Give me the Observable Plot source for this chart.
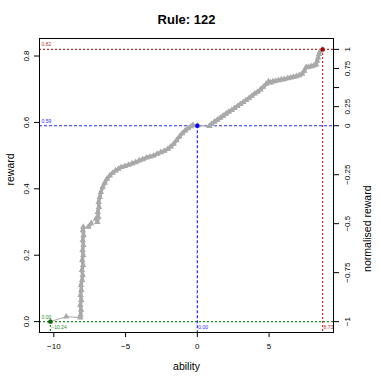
<!DOCTYPE html>
<html><head><meta charset="utf-8">
<script src="https://cdn.jsdelivr.net/npm/d3@7"></script>
<script src="https://cdn.jsdelivr.net/npm/@observablehq/plot@0.6"></script>
<style>body{margin:0;background:#fff}</style>
</head><body><div id="chart"></div>
<script>
const chartTitle = "Rule: 122";
const xLabel = "ability";
const yLabel = "reward";
const y2Label = "normalised reward";

const ability = [
  -10.24, -9.14, -8.15,
  -8.14, -8.10, -8.15, -8.09, -8.14, -8.08, -8.11, -8.03, -7.99, -8.04, -7.96, -8.02, -7.95, -8.00, -7.94, -7.99, -7.93, -7.98, -7.95,
  -7.60, -7.40, -7.05,
  -6.97, -6.90, -6.94, -6.86, -6.88, -6.80, -6.72, -6.60, -6.45, -6.30, -6.10, -5.90, -5.70, -5.50, -5.30, -5.05, -4.80, -4.55, -4.30,
  -4.05, -3.80, -3.55, -3.30, -3.05, -2.80, -2.55, -2.30, -2.05, -1.85, -1.65, -1.45, -1.25, -1.05, -0.85, -0.65, -0.45, -0.30,
  0.00,
  0.84, 1.00, 1.19, 1.40, 1.60, 1.80, 2.00, 2.20, 2.40, 2.60, 2.80, 3.00, 3.20, 3.40, 3.60, 3.80, 4.00, 4.20, 4.40, 4.60, 4.80,
  4.95, 5.10, 5.26, 5.45, 5.65, 5.85, 6.05, 6.30, 6.50, 6.70, 6.90, 7.10, 7.30, 7.45, 7.58, 7.75, 7.93, 8.10, 8.28, 8.35, 8.42,
  8.48, 8.55, 8.73
];
const reward = [
  0.000, 0.015, 0.012,
  0.020, 0.035, 0.050, 0.065, 0.080, 0.095, 0.110, 0.125, 0.140, 0.155, 0.170, 0.185, 0.200, 0.215, 0.230, 0.245, 0.260, 0.275, 0.285,
  0.285, 0.296, 0.311,
  0.300, 0.315, 0.330, 0.345, 0.360, 0.375, 0.390, 0.405, 0.418, 0.430, 0.440, 0.448, 0.455, 0.460, 0.465, 0.468, 0.472, 0.476, 0.480,
  0.485, 0.489, 0.494, 0.497, 0.500, 0.505, 0.510, 0.514, 0.520, 0.527, 0.535, 0.546, 0.557, 0.567, 0.575, 0.582, 0.588, 0.592,
  0.590,
  0.589, 0.595, 0.602, 0.608, 0.614, 0.620, 0.626, 0.632, 0.637, 0.643, 0.649, 0.655, 0.661, 0.667, 0.673, 0.680, 0.687, 0.692, 0.699, 0.707, 0.716,
  0.723, 0.720, 0.723, 0.725, 0.727, 0.729, 0.730, 0.733, 0.735, 0.737, 0.739, 0.742, 0.746, 0.755, 0.766, 0.767, 0.769, 0.771, 0.774, 0.785, 0.795,
  0.806, 0.813, 0.820
];

// highlighted points: minimum ability, ability 0, maximum ability
const markAbility = [-10.24, 0.00, 8.73];
const markReward = [0.00, 0.59, 0.82];
const markColors = ["#006400", "#0000ff", "#a00000"];
const lineColors = ["#1f8f1f", "#2a2aff", "#c03030"];

const xTicks = [-10, -5, 0, 5];
const yTicks = [0, 0.2, 0.4, 0.6, 0.8];
const normTicks = [1, 0.75, 0.5, 0.25, 0, -0.25, -0.5, -0.75, -1];
const normTickLabels = ["1", "0.75", "", "0.25", "0", "\u22120.25", "\u22120.5", "\u22120.75", "\u22121"];

const curve = ability.map((a, i) => ({ability: a, reward: reward[i]}));
const marks = markAbility.map((a, i) => ({ability: a, reward: markReward[i], color: markColors[i], lcolor: lineColors[i]}));
// dense stretches of the curve (points closer than 0.28 in ability) look like a thick band
const dense = [];
for (let i = 0; i + 1 < curve.length; i++) {
  if (Math.abs(curve[i + 1].ability - curve[i].ability) < 0.28) dense.push({a: curve[i], b: curve[i + 1]});
}

const rMin = markReward[0], rMid = markReward[1], rMax = markReward[2];
const normToReward = n => n >= 0 ? rMid + n * (rMax - rMid) : rMid + n * (rMid - rMin);
const rightTicks = normTicks.map(normToReward);
const rightLabelOf = new Map(rightTicks.map((r, i) => [r, normTickLabels[i]]));

const xe = d3.extent(ability), ye = d3.extent(reward);
const xPad = (xe[1] - xe[0]) * 0.04, yPad = (ye[1] - ye[0]) * 0.04;
const xDomain = [xe[0] - xPad, xe[1] + xPad];
const yDomain = [ye[0] - yPad, ye[1] + yPad];

const fmt2 = d3.format(".2f");
const isMid = d => d.ability === 0;

const chart = Plot.plot({
  width: 381, height: 381,
  marginLeft: 39, marginRight: 48, marginTop: 38, marginBottom: 49,
  style: {fontFamily: "'Liberation Sans', Arial, sans-serif", fontSize: "8px", background: "#fff", color: "#000"},
  x: {domain: xDomain, label: null},
  y: {domain: yDomain, label: null},
  marks: [
    // dotted reference lines
    Plot.ruleY(marks.filter(d => !isMid(d)), {y: "reward", stroke: "lcolor", strokeWidth: 1.2, strokeDasharray: "2,2"}),
    Plot.ruleX(marks.filter(d => !isMid(d)), {x: "ability", y1: "reward", y2: yDomain[0], stroke: "lcolor", strokeWidth: 1.2, strokeDasharray: "2,2"}),
    Plot.ruleY(marks.filter(isMid), {y: "reward", stroke: "lcolor", strokeWidth: 1.2, strokeDasharray: "3,2"}),
    Plot.ruleX(marks.filter(isMid), {x: "ability", y1: "reward", y2: yDomain[0], stroke: "lcolor", strokeWidth: 1.2, strokeDasharray: "3,2"}),
    // curve
    Plot.line(curve, {x: "ability", y: "reward", stroke: "#a9a9a9", strokeWidth: 1}),
    Plot.link(dense, {x1: d => d.a.ability, y1: d => d.a.reward, x2: d => d.b.ability, y2: d => d.b.reward, stroke: "#a9a9a9", strokeWidth: 3.5, strokeLinecap: "round"}),
    Plot.dot(curve, {x: "ability", y: "reward", symbol: "triangle", fill: "#a9a9a9", r: 2.4}),
    Plot.dot(marks, {x: "ability", y: "reward", fill: "color", r: 2.2}),
    // reward labels on the left
    Plot.text(marks, {y: "reward", text: d => fmt2(d.reward), fill: "lcolor", frameAnchor: "left", dx: 2, dy: -3, textAnchor: "start", lineAnchor: "bottom", fontSize: 5}),
    // ability labels at the bottom
    Plot.text(marks, {x: "ability", text: d => fmt2(d.ability), fill: "lcolor", frameAnchor: "bottom", dx: 1, dy: -5, textAnchor: "start", lineAnchor: "middle", fontSize: 5}),
    // axes
    Plot.axisX({ticks: xTicks, tickSize: 5, tickPadding: 6, label: null, fontSize: 8}),
    Plot.axisY({anchor: "left", ticks: yTicks, tickFormat: d3.format(".1f"), tickRotate: -90, tickSize: 5, tickPadding: 6, label: null, fontSize: 8}),
    Plot.axisY({anchor: "right", ticks: rightTicks, tickFormat: d => rightLabelOf.get(d) ?? "", tickRotate: -90, tickSize: 5, tickPadding: 11, label: null, fontSize: 8}),
    Plot.frame({stroke: "#000", strokeWidth: 1}),
    // titles
    Plot.text([chartTitle], {text: d => d, frameAnchor: "top", dy: -15, lineAnchor: "bottom", fontSize: 13, fontWeight: "bold"}),
    Plot.text([xLabel], {text: d => d, frameAnchor: "bottom", dy: 37, lineAnchor: "bottom", fontSize: 10.5}),
    Plot.text([yLabel], {text: d => d, frameAnchor: "left", dx: -26, rotate: -90, lineAnchor: "bottom", fontSize: 10.5}),
    Plot.text([y2Label], {text: d => d, frameAnchor: "right", dx: 37, rotate: -90, lineAnchor: "bottom", fontSize: 10.5})
  ]
});
document.getElementById("chart").append(chart);
</script>
</body></html>
